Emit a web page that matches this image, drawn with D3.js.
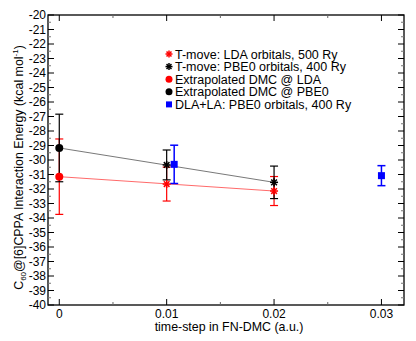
<!DOCTYPE html>
<html><head><meta charset="utf-8">
<script src="https://cdn.jsdelivr.net/npm/d3@7"></script>
<style>body{margin:0;background:#fff;} svg{display:block;font-family:"Liberation Sans",Arial,sans-serif;}</style>
</head><body>
<svg id="c" width="416" height="341"></svg>
<script>
// Data
const tmoveLDA_x = [0.01, 0.02];
const tmoveLDA_y = [-31.66, -32.14];
const tmoveLDA_err = [1.17, 1.0];
const tmovePBE0_x = [0.01, 0.02];
const tmovePBE0_y = [-30.34, -31.54];
const tmovePBE0_err = [1.03, 1.12];
const extrapLDA_x = [0];
const extrapLDA_y = [-31.15];
const extrapLDA_err = [2.6];
const extrapPBE0_x = [0];
const extrapPBE0_y = [-29.17];
const extrapPBE0_err = [2.33];
const dlaPBE0_x = [0.0107, 0.03];
const dlaPBE0_y = [-30.3, -31.08];
const dlaPBE0_err = [1.32, 0.69];
const fitLDA_x = [0, 0.02];
const fitLDA_y = [-31.15, -32.14];
const fitPBE0_x = [0, 0.02];
const fitPBE0_y = [-29.17, -31.54];
const xTicks = [0, 0.01, 0.02, 0.03];
const xTickLabels = ["0", "0.01", "0.02", "0.03"];
const yTicks = d3.range(-40, -19, 1);
const legendLabels = ["T-move: LDA orbitals, 500 Ry","T-move: PBE0 orbitals, 400 Ry","Extrapolated DMC @ LDA","Extrapolated DMC @ PBE0","DLA+LA: PBE0 orbitals, 400 Ry"];

const svg = d3.select("#c");
const L = 48, R = 404, T = 15, B = 305;
const x = d3.scaleLinear().domain([-0.00105, 0.0321]).range([L, R]);
const y = d3.scaleLinear().domain([-40, -20]).range([B, T]);

// frame
svg.append("rect").attr("x", L).attr("y", T).attr("width", R - L).attr("height", B - T)
  .attr("fill", "none").attr("stroke", "#000").attr("stroke-width", 1.3);

// ticks
const minorX = d3.range(0, 0.0321, 0.005);
const minorY = d3.range(-39.5, -20, 1);
function tickLines(){
  const g = svg.append("g").attr("stroke-width", 1);
  minorX.forEach(v => {
    const major = Math.abs(Math.round(v*100) - v*100) < 1e-6;
    const len = major ? 6 : 3;
    g.append("line").attr("x1", x(v)).attr("x2", x(v)).attr("y1", B).attr("y2", B - len).attr("stroke", major ? "#000" : "#666");
    g.append("line").attr("x1", x(v)).attr("x2", x(v)).attr("y1", T).attr("y2", T + len).attr("stroke", major ? "#000" : "#666");
  });
  yTicks.forEach(v => {
    g.append("line").attr("x1", L).attr("x2", L + 6).attr("y1", y(v)).attr("y2", y(v)).attr("stroke", "#000");
    g.append("line").attr("x1", R).attr("x2", R - 6).attr("y1", y(v)).attr("y2", y(v)).attr("stroke", "#000");
  });
  minorY.forEach(v => {
    g.append("line").attr("x1", L).attr("x2", L + 3).attr("y1", y(v)).attr("y2", y(v)).attr("stroke", "#777");
    g.append("line").attr("x1", R).attr("x2", R - 3).attr("y1", y(v)).attr("y2", y(v)).attr("stroke", "#777");
  });
}
tickLines();

// tick labels
svg.append("g").selectAll("text").data(yTicks).join("text")
  .attr("x", L - 2).attr("y", d => y(d)).attr("dy", "0.36em").attr("text-anchor", "end")
  .attr("font-size", 12).text(d => d);
svg.append("g").selectAll("text").data(xTicks).join("text")
  .attr("x", d => x(d)).attr("y", B + 13).attr("text-anchor", "middle")
  .attr("font-size", 12).text((d, i) => xTickLabels[i]);

// axis titles
svg.append("text").attr("x", 229).attr("y", 331).attr("text-anchor", "middle")
  .attr("font-size", 12.4).text("time-step in FN-DMC (a.u.)");
const yt = svg.append("text").attr("transform", `translate(22.5,167.5) rotate(-90)`)
  .attr("text-anchor", "middle").attr("font-size", 12.4);
yt.append("tspan").text("C");
yt.append("tspan").attr("font-size", 8).attr("dy", 3).text("60");
yt.append("tspan").attr("dy", -3).text("@[6]CPPA Interaction Energy (kcal mol");
yt.append("tspan").attr("font-size", 8).attr("dy", -5).text("-1");
yt.append("tspan").attr("dy", 5).text(")");

// fit lines
const line = d3.line().x(d => x(d[0])).y(d => y(d[1]));
svg.append("path").attr("d", line(d3.zip(fitPBE0_x, fitPBE0_y))).attr("stroke", "#555").attr("stroke-width", 0.8).attr("fill", "none");
svg.append("path").attr("d", line(d3.zip(fitLDA_x, fitLDA_y))).attr("stroke", "#f44").attr("stroke-width", 0.8).attr("fill", "none");

// error bars
function errBars(xs, ys, es, color, w){
  const g = svg.append("g").attr("stroke", color).attr("stroke-width", w);
  xs.forEach((xv, i) => {
    const cx = x(xv), y1 = y(ys[i] + es[i]), y2 = y(ys[i] - es[i]);
    g.append("line").attr("x1", cx).attr("x2", cx).attr("y1", y1).attr("y2", y2);
    g.append("line").attr("x1", cx - 4).attr("x2", cx + 4).attr("y1", y1).attr("y2", y1);
    g.append("line").attr("x1", cx - 4).attr("x2", cx + 4).attr("y1", y2).attr("y2", y2);
  });
}
errBars(extrapLDA_x, extrapLDA_y, extrapLDA_err, "#f00", 1.2);
errBars(tmoveLDA_x, tmoveLDA_y, tmoveLDA_err, "#f00", 1.2);
errBars(extrapPBE0_x, extrapPBE0_y, extrapPBE0_err, "#000", 1.2);
errBars(tmovePBE0_x, tmovePBE0_y, tmovePBE0_err, "#000", 1.2);
errBars(dlaPBE0_x, dlaPBE0_y, dlaPBE0_err, "#00f", 1.5);

// symbols
function star(g, cx, cy, color, r){
  const s = g.append("g").attr("stroke", color).attr("stroke-width", 1.5);
  for (let k = 0; k < 4; k++){
    const a = k * Math.PI / 4;
    s.append("line").attr("x1", cx - r*Math.cos(a)).attr("x2", cx + r*Math.cos(a))
      .attr("y1", cy - r*Math.sin(a)).attr("y2", cy + r*Math.sin(a));
  }
}
const sym = svg.append("g");
extrapLDA_x.forEach((v, i) => sym.append("circle").attr("cx", x(v)).attr("cy", y(extrapLDA_y[i])).attr("r", 4).attr("fill", "#f00"));
extrapPBE0_x.forEach((v, i) => sym.append("circle").attr("cx", x(v)).attr("cy", y(extrapPBE0_y[i])).attr("r", 4).attr("fill", "#000"));
tmoveLDA_x.forEach((v, i) => star(sym, x(v), y(tmoveLDA_y[i]), "#f00", 4));
tmovePBE0_x.forEach((v, i) => star(sym, x(v), y(tmovePBE0_y[i]), "#000", 4));
dlaPBE0_x.forEach((v, i) => sym.append("rect").attr("x", x(v) - 3.5).attr("y", y(dlaPBE0_y[i]) - 3.5).attr("width", 7).attr("height", 7).attr("fill", "#00f"));

// legend
const lx = 169, ly0 = 54, ldy = 12.6;
const lg = svg.append("g");
star(lg, lx, ly0, "#f00", 3.5);
star(lg, lx, ly0 + ldy, "#000", 3.5);
lg.append("circle").attr("cx", lx).attr("cy", ly0 + 2*ldy).attr("r", 3.5).attr("fill", "#f00");
lg.append("circle").attr("cx", lx).attr("cy", ly0 + 3*ldy).attr("r", 3.5).attr("fill", "#000");
lg.append("rect").attr("x", lx - 3).attr("y", ly0 + 4*ldy - 3).attr("width", 6).attr("height", 6).attr("fill", "#00f");
lg.selectAll("text").data(legendLabels).join("text")
  .attr("x", 175).attr("y", (d, i) => ly0 + i*ldy).attr("dy", "0.36em")
  .attr("font-size", 12.5).text(d => d);
</script>
</body></html>
